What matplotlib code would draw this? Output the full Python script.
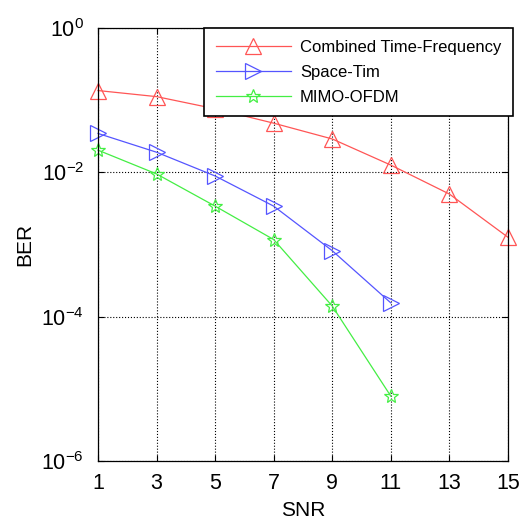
import matplotlib.pyplot as plt
import numpy as np

plt.rcParams['font.family'] = ['Liberation Sans', 'DejaVu Sans']
plt.rcParams['mathtext.fontset'] = 'custom'
plt.rcParams['mathtext.rm'] = 'Liberation Sans'

# ---------------------------------------------------
# DATOS
# ---------------------------------------------------
SNR = [1, 3, 5, 7, 9, 11, 13, 15]
SNR_SHORT = [1, 3, 5, 7, 9, 11]
BER_COMBINED = [0.136, 0.112, 0.076, 0.048, 0.029, 0.0126, 0.0050, 0.00126]
BER_SPACE_TIME = [0.0346, 0.019, 0.0089, 0.0034, 0.00082, 0.000155]
BER_MIMO_OFDM = [0.0203, 0.0095, 0.0034, 0.00117, 0.000140, 7.9e-6]
LABELS = ['Combined Time-Frequency', 'Space-Tim', 'MIMO-OFDM']
X_TICKS = [1, 3, 5, 7, 9, 11, 13, 15]
Y_TICKS = [1e0, 1e-2, 1e-4, 1e-6]
# ---------------------------------------------------


def plot():
    fig = plt.figure(figsize=(5.23, 5.19), dpi=100)
    ax = fig.add_axes([0.1874, 0.1118, 0.7839, 0.8342])

    ax.plot(SNR, BER_COMBINED, color='#ff5555', lw=0.9, marker='^', ms=12,
            mfc='none', mec='#ff5555', mew=0.9, label=LABELS[0], clip_on=False)
    ax.plot(SNR_SHORT, BER_SPACE_TIME, color='#5555ff', lw=0.9, marker='>', ms=12,
            mfc='none', mec='#5555ff', mew=0.9, label=LABELS[1], clip_on=False)
    ax.plot(SNR_SHORT, BER_MIMO_OFDM, color='#44ee44', lw=0.9, marker='*', ms=10,
            mfc='none', mec='#44ee44', mew=0.9, label=LABELS[2], clip_on=False)

    ax.set_yscale('log')
    ax.set_xlim(1, 15)
    ax.set_ylim(1e-6, 1e0)
    ax.set_xticks(X_TICKS)
    ax.set_xticklabels([str(x) for x in X_TICKS])
    ax.set_yticks(Y_TICKS)
    ax.set_yticklabels([r'$\mathregular{10^{%d}}$' % int(np.log10(y)) for y in Y_TICKS])
    ax.yaxis.set_minor_locator(plt.NullLocator())
    ax.tick_params(direction='in', labelsize=15.5, length=4, width=0.8,
                   top=True, right=True, pad=10)
    ax.tick_params(axis='x', pad=9)
    ax.grid(True, color='black', linestyle=':', linewidth=0.8)

    for spine in ax.spines.values():
        spine.set_linewidth(0.9)

    ax.set_xlabel('SNR', fontsize=15, labelpad=5)
    ax.set_ylabel('BER', fontsize=15, labelpad=5)

    leg = ax.legend(loc='upper right', bbox_to_anchor=(1.012, 1.0), borderaxespad=0,
                    fontsize=12, handlelength=4.5, handletextpad=0.55,
                    labelspacing=0.6, fancybox=False, framealpha=1,
                    edgecolor='black', borderpad=0.7)
    leg.get_frame().set_linewidth(1.2)
    leg.set_zorder(5)

    fig.savefig('out.png', dpi=100)


def main():
    plot()


if __name__ == '__main__':
    main()
